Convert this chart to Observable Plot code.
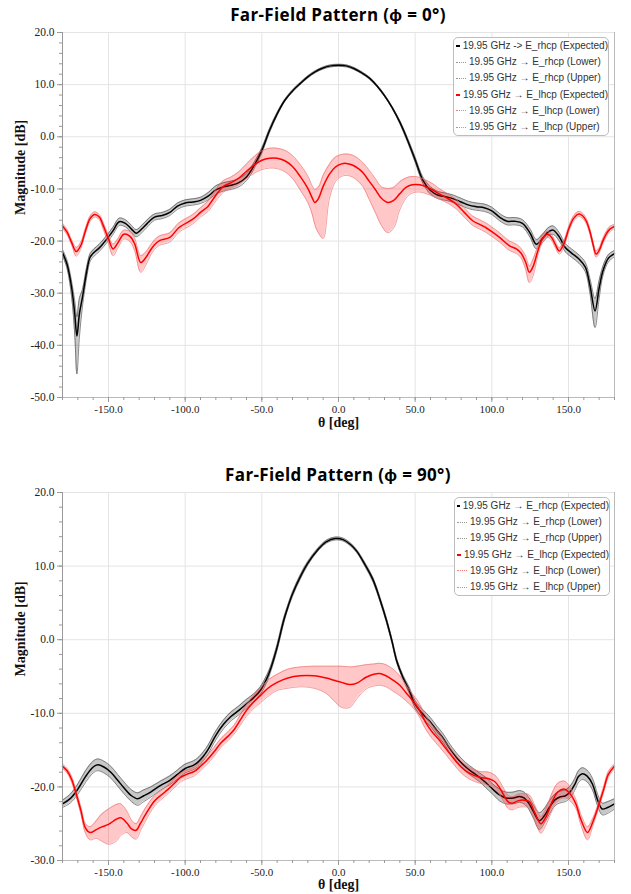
<!DOCTYPE html>
<html>
<head>
<meta charset="utf-8">
<script src="https://cdn.jsdelivr.net/npm/d3@7"></script>
<script src="https://cdn.jsdelivr.net/npm/@observablehq/plot@0.6"></script>
<style>
  html, body { margin: 0; padding: 0; background: #fff; }
  body { width: 631px; height: 894px; position: relative; overflow: hidden; }
  .title { position: absolute; left: 62px; width: 552px; text-align: center;
           font-family: "Open Sans", sans-serif; font-weight: bold; font-size: 17px;
           letter-spacing: 0.35px; line-height: 22px; color: #000; white-space: nowrap; }
  .plot { position: absolute; left: 0; }
  .plot svg text { font-family: "Liberation Serif", "Times New Roman", serif; }
  .legend { position: absolute; width: 156px; background: #fff; border: 1px solid #bdbdbd;
            border-radius: 5px; box-sizing: border-box; padding: 0;
            font-family: "Liberation Sans", Arial, sans-serif; font-size: 10px; color: #333; }
  .legend .row { height: 16.2px; line-height: 16.2px; white-space: nowrap; display: flex; align-items: center; }
  .legend .sw { display: inline-block; width: 10px; margin-left: 2px; margin-right: 3px; height: 0; }
</style>
</head>
<body>
<div class="title" id="t1" style="top:4px"></div>
<div class="plot" id="p1" style="top:24px"></div>
<div class="legend" id="l1" style="left:453px; top:37px"></div>
<div class="title" id="t2" style="top:464px"></div>
<div class="plot" id="p2" style="top:485px"></div>
<div class="legend" id="l2" style="left:454px; top:497px"></div>
<script>
// ---------- labels ----------
const title0 = "Far-Field Pattern (ϕ = 0°)";
const title90 = "Far-Field Pattern (ϕ = 90°)";
const xLabel = "θ [deg]";
const yLabel = "Magnitude [dB]";
const legend0 = [
  "19.95 GHz -> E_rhcp (Expected)",
  "19.95 GHz → E_rhcp (Lower)",
  "19.95 GHz → E_rhcp (Upper)",
  "19.95 GHz → E_lhcp (Expected)",
  "19.95 GHz → E_lhcp (Lower)",
  "19.95 GHz → E_lhcp (Upper)"
];
const legend90 = [
  "19.95 GHz → E_rhcp (Expected)",
  "19.95 GHz → E_rhcp (Lower)",
  "19.95 GHz → E_rhcp (Upper)",
  "19.95 GHz → E_lhcp (Expected)",
  "19.95 GHz → E_lhcp (Lower)",
  "19.95 GHz → E_lhcp (Upper)"
];

// ---------- ticks ----------
const xMajor = [-150, -100, -50, 0, 50, 100, 150];
const xMinor = [-180,-170,-160,-150,-140,-130,-120,-110,-100,-90,-80,-70,-60,-50,-40,-30,-20,-10,0,10,20,30,40,50,60,70,80,90,100,110,120,130,140,150,160,170,180];
const yMajor0 = [-50, -40, -30, -20, -10, 0, 10, 20];
const yMajor90 = [-30, -20, -10, 0, 10, 20];

// ---------- φ = 0° : E_rhcp ----------
const th0R = [-180,-177,-174,-172,-170.6,-169,-167,-164,-162,-159.5,-156,-153,-150,-147,-143,-139,-135,-132,-128,-125,-120,-115,-110,-105,-100,-95,-90,-85,-80,-75,-70,-65,-60,-55,-50,-45,-40,-35,-30,-25,-20,-15,-10,-5,0,5,10,15,20,25,30,35,40,45,50,55,60,65,70,75,80,85,90,95,100,105,110,115,120,125,129,133,137,140,144,148,152,157,161,164,167.3,170,172.5,176,180];
const rhcp0 = [-22.2,-24.5,-29,-34,-38.2,-34,-30.8,-25.5,-23.1,-22.2,-21.3,-20.3,-19.2,-18,-16.3,-16.6,-17.7,-18.5,-17.6,-16.7,-15.4,-15.1,-14.5,-13.3,-12.7,-12.5,-12.2,-11.4,-10.2,-9.6,-9.3,-8.8,-7.7,-5.5,-2.6,1.2,4.4,7.0,8.8,10.2,11.5,12.5,13.2,13.6,13.7,13.6,13.1,12.3,11.3,9.8,7.9,5.6,2.8,-0.6,-4.4,-8.3,-10.3,-11.2,-11.5,-11.9,-12.5,-13.1,-13.4,-13.6,-14.2,-15.4,-16.2,-16.2,-16.6,-18.5,-20.6,-19.5,-18.2,-17.9,-19.2,-21.3,-22.3,-23.5,-25,-28.5,-33.4,-29,-25.7,-23.3,-22.4];
const rhcp0Lo = [-22.8,-25.3,-30.8,-38,-45.5,-38.5,-32.6,-26.6,-23.9,-22.9,-22.0,-21.0,-19.9,-18.7,-17.0,-17.3,-18.4,-19.2,-18.3,-17.4,-16.0,-15.7,-15.1,-13.9,-13.3,-13.1,-12.8,-12.1,-11.0,-10.4,-10.1,-9.6,-8.4,-6.1,-3.1,0.8,4.1,6.8,8.6,10.0,11.3,12.3,13.0,13.4,13.5,13.4,12.9,12.1,11.1,9.6,7.7,5.4,2.5,-1.0,-4.9,-8.9,-11.0,-11.9,-12.2,-12.6,-13.2,-13.8,-14.1,-14.3,-14.9,-16.1,-16.9,-16.9,-17.3,-19.3,-21.5,-20.3,-19.0,-18.7,-20.0,-22.1,-23.1,-24.3,-25.9,-30.0,-36.6,-31,-26.6,-24.0,-23.0];
const rhcp0Hi = [-21.6,-23.7,-27.8,-31.5,-34.5,-31,-29.3,-24.6,-22.4,-21.5,-20.6,-19.6,-18.5,-17.3,-15.6,-15.9,-17.0,-17.8,-16.9,-16.0,-14.8,-14.5,-13.9,-12.7,-12.1,-11.9,-11.6,-10.7,-9.4,-8.8,-8.5,-8.0,-7.0,-4.9,-2.1,1.6,4.7,7.2,9.0,10.4,11.7,12.7,13.4,13.8,13.9,13.8,13.3,12.5,11.5,10.0,8.1,5.8,3.1,-0.2,-3.9,-7.7,-9.6,-10.5,-10.8,-11.2,-11.8,-12.4,-12.7,-12.9,-13.5,-14.7,-15.5,-15.5,-15.9,-17.7,-19.7,-18.7,-17.4,-17.1,-18.4,-20.5,-21.5,-22.7,-24.1,-27.2,-31.0,-27.5,-24.8,-22.6,-21.8];

// ---------- φ = 0° : E_lhcp ----------
const th0L = [-180,-177,-174,-171,-168,-165,-162,-159,-156,-153.6,-150,-147,-144,-140,-136,-133,-129,-126,-123,-120,-116.7,-110,-104,-95,-90,-85,-80,-75,-70,-65,-60,-55,-50,-45,-40,-35,-30,-25,-20,-17,-15.5,-13,-10,-6,-2,2,5,9,13,16,20,24,28,32,36,40,44,48,53,57,61.5,66,71,76.7,82,87.5,92,96,100,105,111.5,116,119,122,124.5,127,130,133,136.5,139,141.5,144,147,150.5,153.5,156.7,159,161.5,164,166,168,170,172,174.5,177,180];
const lhcp0 = [-17.1,-18.3,-20.3,-22.0,-20.8,-18.0,-15.7,-14.9,-15.4,-16.9,-19.6,-21.5,-20.4,-18.7,-19.1,-20.5,-24.1,-23.3,-21.9,-20.7,-19.9,-19.3,-17.4,-15.8,-14.5,-13.3,-11.2,-9.5,-8.8,-7.9,-6.6,-5.4,-4.5,-4.1,-4.1,-4.6,-5.7,-7.6,-9.9,-11.8,-12.6,-11.8,-9.5,-7.2,-5.8,-5.2,-5.1,-5.4,-6.1,-6.9,-8.5,-10.1,-11.8,-12.6,-12.2,-10.9,-9.7,-9.2,-9.2,-9.6,-10.2,-11.0,-11.8,-12.9,-14.5,-16.1,-16.8,-17.4,-18.2,-19.3,-20.9,-21.5,-22.3,-24.0,-26.0,-24.8,-21.9,-19.6,-18.7,-19.3,-20.7,-21.9,-20.5,-17.4,-15.6,-14.8,-15.1,-16.1,-18.2,-20.6,-22.5,-21.8,-20.3,-18.7,-17.7,-17.2];
const lhcp0Lo = [-17.6,-18.8,-20.8,-22.9,-21.4,-18.5,-16.2,-15.4,-15.9,-17.6,-20.5,-22.8,-21.4,-19.6,-20.1,-21.8,-26.0,-24.8,-23.0,-21.6,-20.8,-20.2,-18.3,-16.7,-15.4,-14.3,-12.3,-10.6,-9.9,-9.1,-8.0,-7.0,-6.3,-6.0,-6.1,-6.7,-8.0,-10.2,-12.6,-15.0,-16.8,-18.5,-19.5,-12.0,-8.6,-7.6,-7.4,-7.7,-8.6,-9.6,-12.0,-14.5,-17.0,-18.4,-17.5,-14.0,-11.8,-10.8,-10.6,-10.9,-11.4,-12.0,-12.7,-13.8,-15.4,-17.0,-17.7,-18.3,-19.1,-20.2,-21.8,-22.4,-23.2,-25.4,-28.0,-26.6,-22.8,-20.3,-19.3,-19.9,-21.3,-22.5,-21.1,-17.9,-16.1,-15.3,-15.6,-16.6,-18.7,-21.1,-23.1,-22.3,-20.8,-19.2,-18.2,-17.6];
const lhcp0Hi = [-16.6,-17.8,-19.8,-21.2,-20.2,-17.5,-15.2,-14.4,-14.9,-16.3,-18.9,-20.6,-19.6,-17.9,-18.2,-19.4,-22.8,-22.2,-21.0,-19.8,-19.0,-18.4,-16.5,-14.9,-13.6,-12.3,-10.1,-8.4,-7.7,-6.7,-5.2,-3.8,-2.7,-2.2,-2.2,-2.6,-3.6,-5.3,-7.5,-9.5,-10.1,-9.6,-7.4,-5.3,-3.9,-3.4,-3.3,-3.5,-4.2,-5.0,-6.4,-8.0,-9.6,-9.9,-9.7,-8.6,-7.9,-7.6,-7.8,-8.3,-9.0,-10.0,-10.9,-12.0,-13.6,-15.2,-15.9,-16.5,-17.3,-18.4,-20.0,-20.6,-21.4,-22.8,-24.8,-23.4,-21.0,-18.9,-18.1,-18.7,-20.1,-21.3,-19.9,-16.9,-15.1,-14.3,-14.6,-15.6,-17.7,-20.1,-21.9,-21.3,-19.8,-18.2,-17.2,-16.8];

// ---------- φ = 90° : E_rhcp ----------
const th90R = [-180,-175,-170,-165,-160,-157,-153,-148.5,-144,-140,-135,-131,-127,-122.5,-116,-110,-105,-100,-95,-92,-88,-85,-80,-75,-70,-65,-60,-55,-51,-47,-44,-40,-36,-33.7,-30,-25,-20,-14,-8,-2,3,8,12,17,22.6,27,31.3,35,38,42,46,50,55,60,64,68,72,77,83,88,92,96,100.6,105,109,114,118,121,124,127,131,134,137.5,141,144,148,151,154,156.5,159,162,165.6,169,172,175.5,180];
const rhcp90 = [-22.3,-21.6,-20.3,-18.6,-17.3,-17.0,-17.3,-18.0,-19.1,-20.1,-21.2,-21.6,-21.2,-20.7,-19.8,-19.1,-18.3,-17.5,-17.1,-16.7,-15.8,-14.9,-13.0,-11.5,-10.4,-9.6,-8.7,-7.8,-6.9,-5.4,-3.8,-1.0,2.4,4.0,6.2,8.5,10.4,12.1,13.3,13.75,13.6,12.9,12.0,10.3,8.1,5.5,2.6,-0.3,-2.9,-5.1,-6.8,-8.8,-10.1,-11.2,-12.3,-13.3,-14.6,-16.0,-17.3,-18.1,-18.7,-19.4,-20.3,-21.1,-21.5,-21.5,-21.3,-21.5,-22.2,-23.3,-24.6,-24.0,-22.8,-21.8,-21.4,-21.2,-20.7,-19.7,-18.6,-18.2,-18.5,-19.6,-21.8,-23.0,-22.8,-22.3];
const rhcp90Lo = [-22.8,-22.2,-21.0,-19.4,-18.1,-17.8,-18.1,-18.8,-19.9,-20.9,-22.0,-22.5,-22.0,-21.4,-20.4,-19.7,-18.9,-18.1,-17.7,-17.3,-16.4,-15.5,-13.6,-12.1,-11.0,-10.2,-9.3,-8.3,-7.4,-5.9,-4.2,-1.4,2.0,3.7,5.9,8.2,10.15,11.9,13.1,13.55,13.4,12.7,11.8,10.05,7.8,5.2,2.3,-0.6,-3.2,-5.4,-7.2,-9.3,-10.7,-11.8,-12.9,-13.9,-15.2,-16.6,-17.9,-18.7,-19.3,-20.1,-21.0,-21.9,-22.3,-22.3,-22.1,-22.3,-23.0,-24.2,-25.8,-25.0,-23.7,-22.6,-22.2,-22.0,-21.5,-20.5,-19.4,-19.0,-19.3,-20.4,-22.6,-23.8,-23.6,-23.0];
const rhcp90Hi = [-21.8,-21.0,-19.6,-17.8,-16.5,-16.2,-16.5,-17.2,-18.3,-19.3,-20.4,-20.8,-20.4,-20.0,-19.2,-18.5,-17.7,-16.9,-16.5,-16.1,-15.2,-14.3,-12.4,-10.9,-9.8,-9.0,-8.1,-7.3,-6.4,-4.9,-3.4,-0.6,2.8,4.3,6.5,8.8,10.65,12.3,13.5,13.95,13.8,13.1,12.2,10.55,8.4,5.8,2.9,0.0,-2.6,-4.8,-6.4,-8.3,-9.5,-10.6,-11.7,-12.7,-14.0,-15.4,-16.7,-17.5,-18.1,-18.7,-19.6,-20.3,-20.7,-20.7,-20.5,-20.7,-21.4,-22.4,-23.5,-23.0,-21.9,-21.0,-20.6,-20.4,-19.9,-18.9,-17.8,-17.4,-17.7,-18.8,-21.0,-22.2,-22.0,-21.6];

// ---------- φ = 90° : E_lhcp ----------
const th90L = [-180,-177,-174,-171,-168,-165,-162,-158,-155,-150,-145,-142,-138,-135,-132,-129,-126,-120,-115,-111,-106,-103,-99,-94,-90,-86,-81,-77,-72,-68,-64,-60,-55,-51,-46,-40,-33,-25,-16,-8,-3,2,7.5,12,18,23,27,31,35.6,40,44,48,52,57,61,66,70,75,80,85,92,98,102,105,108,111,114,117,121,124.5,128,132,135,139.6,143,147,150,154.8,158,162.4,166,170,173,176,180];
const lhcp90 = [-17.2,-17.8,-19.0,-21.0,-23.2,-25.6,-26.2,-25.8,-25.5,-25.1,-24.4,-24.2,-24.9,-25.7,-25.9,-24.9,-23.8,-21.9,-21.0,-20.3,-19.3,-18.7,-18.3,-17.9,-17.2,-16.4,-15.2,-14.1,-13.1,-12.2,-10.9,-9.6,-8.4,-7.6,-6.6,-5.8,-5.2,-4.9,-4.9,-5.2,-5.5,-5.8,-6.1,-5.9,-5.1,-4.7,-4.6,-4.9,-5.5,-6.2,-7.2,-8.2,-9.3,-11.3,-12.5,-13.7,-14.8,-16.1,-17.3,-18.1,-18.7,-18.9,-19.3,-20.1,-21.2,-22.1,-22.2,-21.9,-21.8,-22.0,-23.5,-25.0,-24.2,-21.9,-20.7,-20.3,-20.7,-22.3,-24.4,-26.2,-24.7,-22.3,-20.3,-18.3,-17.2];
const lhcp90Lo = [-17.5,-18.1,-19.4,-21.4,-23.7,-26.3,-27.2,-27.0,-27.3,-27.8,-27.4,-26.6,-26.2,-26.8,-27.1,-25.9,-24.7,-22.6,-21.6,-20.9,-19.9,-19.3,-18.9,-18.5,-17.8,-17.0,-15.8,-14.7,-13.7,-12.8,-11.6,-10.4,-9.3,-8.6,-7.7,-6.9,-6.6,-6.4,-6.6,-7.3,-8.3,-9.2,-9.2,-8.0,-6.7,-6.3,-6.2,-6.4,-7.0,-7.6,-8.3,-9.1,-10.2,-12.2,-13.4,-14.6,-15.6,-16.9,-18.1,-18.9,-19.5,-19.8,-20.2,-21.0,-22.1,-23.0,-23.1,-22.8,-22.7,-22.9,-24.5,-26.3,-25.3,-23.1,-21.9,-21.5,-21.7,-22.9,-25.1,-27.2,-25.2,-22.7,-20.7,-18.7,-17.5];
const lhcp90Hi = [-16.9,-17.5,-18.6,-20.6,-22.7,-25.0,-25.4,-24.6,-23.8,-23.0,-22.4,-22.3,-23.3,-24.5,-25.0,-24.0,-22.9,-21.2,-20.4,-19.7,-18.7,-18.1,-17.7,-17.3,-16.6,-15.8,-14.6,-13.5,-12.5,-11.6,-10.2,-8.8,-7.5,-6.6,-5.5,-4.7,-4.0,-3.7,-3.6,-3.6,-3.6,-3.6,-3.7,-3.6,-3.4,-3.3,-3.2,-3.4,-4.0,-4.9,-6.2,-7.3,-8.4,-10.4,-11.6,-12.8,-14.0,-15.3,-16.5,-17.3,-17.9,-18.0,-18.4,-19.2,-20.3,-21.2,-21.3,-21.0,-20.9,-21.1,-22.5,-24.0,-23.1,-20.7,-19.5,-19.2,-19.7,-21.7,-23.7,-25.4,-24.2,-21.9,-19.9,-17.9,-16.9];

// ---------- build ----------
function rows(th, e, lo, hi) {
  return th.map((t, i) => ({t, e: e[i], lo: lo[i], hi: hi[i]}));
}
const curve = "catmull-rom";
function seriesMarks(data, color, fill, edge) {
  return [
    Plot.areaY(data, {x: "t", y1: "lo", y2: "hi", fill: fill, fillOpacity: 0.22, curve}),
    Plot.line(data, {x: "t", y: "lo", stroke: edge, strokeWidth: 0.7, curve}),
    Plot.line(data, {x: "t", y: "hi", stroke: edge, strokeWidth: 0.7, curve}),
    Plot.line(data, {x: "t", y: "e", stroke: color, strokeWidth: 1.5, curve})
  ];
}
function yMinorOf(lo, hi) { const a = []; for (let v = lo; v <= hi; v += 2) a.push(v); return a; }

const serif = "Liberation Serif, Times New Roman, serif";
function makeChart(opts) {
  const {height, marginTop, marginBottom, yDomain, yMajor, rh, lh, labelDy} = opts;
  const yMinor = yMinorOf(yDomain[0], yDomain[1]);
  return Plot.plot({
    width: 631, height, marginLeft: 62, marginRight: 17, marginTop, marginBottom,
    x: {domain: [-180, 180]},
    y: {domain: yDomain},
    style: {fontFamily: serif, fontSize: "11px", color: "#222", background: "#fff", overflow: "visible"},
    marks: [
      Plot.gridX(xMajor, {stroke: "#e4e4e4", strokeOpacity: 1}),
      Plot.gridY(yMajor, {stroke: "#e4e4e4", strokeOpacity: 1}),
      ...seriesMarks(rh, "#000", "#000", "#555"),
      ...seriesMarks(lh, "#ff0000", "#ff0000", "#ee7777"),
      Plot.ruleX([-180], {stroke: "#999"}),
      Plot.ruleX([180], {stroke: "#bbb"}),
      Plot.ruleY([yDomain[0]], {stroke: "#bbb"}),
      Plot.axisX(xMinor, {tickSize: 3, tickFormat: () => "", stroke: "#999", label: null}),
      Plot.axisX(xMajor, {tickSize: 5, tickPadding: 3, tickFormat: d => d.toFixed(1), stroke: "#999", label: null, fontFamily: serif, fontSize: 11}),
      Plot.axisY(yMinor, {tickSize: 3, tickFormat: () => "", stroke: "#999", label: null}),
      Plot.axisY(yMajor, {tickSize: 5, tickPadding: 3, tickFormat: d => d.toFixed(1), stroke: "#999", label: null, fontFamily: serif, fontSize: 11.5}),
      Plot.text([xLabel], {text: d => d, frameAnchor: "bottom", dy: labelDy, lineAnchor: "top", fontWeight: "bold", fontSize: 14, fontFamily: serif, fill: "#111"}),
      Plot.text([yLabel], {text: d => d, frameAnchor: "left", dx: -42, rotate: -90, fontWeight: "bold", fontSize: 14, fontFamily: serif, fill: "#111"})
    ]
  });
}

function fillLegend(el, labels) {
  const styles = [
    {c: "#000", w: 2, s: "solid"},
    {c: "#999", w: 1, s: "dotted"},
    {c: "#999", w: 1, s: "dotted"},
    {c: "#ff0000", w: 2, s: "solid"},
    {c: "#f08080", w: 1, s: "dotted"},
    {c: "#f08080", w: 1, s: "dotted"}
  ];
  labels.forEach((lab, i) => {
    const row = document.createElement("div");
    row.className = "row";
    const sw = document.createElement("span");
    sw.className = "sw";
    sw.style.borderTop = `${styles[i].w}px ${styles[i].s} ${styles[i].c}`;
    const tx = document.createElement("span");
    tx.textContent = lab;
    row.appendChild(sw); row.appendChild(tx);
    el.appendChild(row);
  });
}

document.getElementById("t1").textContent = title0;
document.getElementById("t2").textContent = title90;

document.getElementById("p1").appendChild(makeChart({
  height: 412, marginTop: 8, marginBottom: 39, yDomain: [-50, 20], yMajor: yMajor0, labelDy: 20,
  rh: rows(th0R, rhcp0, rhcp0Lo, rhcp0Hi), lh: rows(th0L, lhcp0, lhcp0Lo, lhcp0Hi)
}));
document.getElementById("p2").appendChild(makeChart({
  height: 409, marginTop: 7, marginBottom: 34, yDomain: [-30, 20], yMajor: yMajor90, labelDy: 19,
  rh: rows(th90R, rhcp90, rhcp90Lo, rhcp90Hi), lh: rows(th90L, lhcp90, lhcp90Lo, lhcp90Hi)
}));
fillLegend(document.getElementById("l1"), legend0);
fillLegend(document.getElementById("l2"), legend90);
</script>
</body>
</html>
